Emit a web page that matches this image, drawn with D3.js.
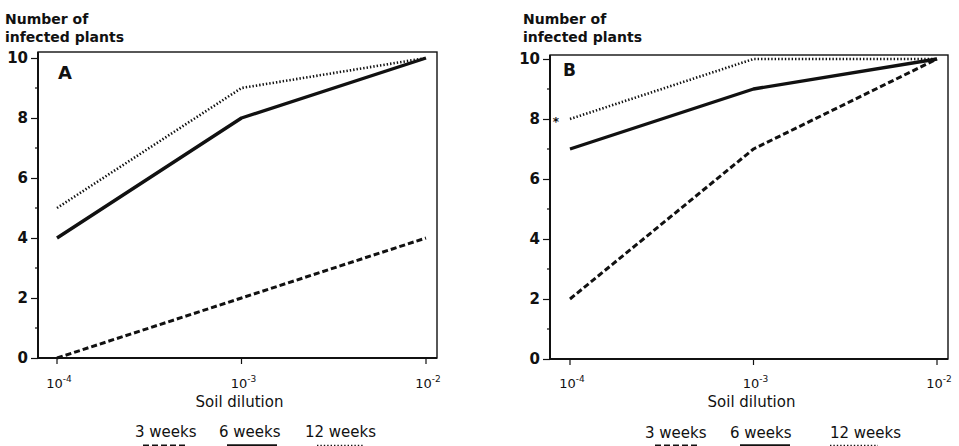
<!DOCTYPE html>
<html>
<head>
<meta charset="utf-8">
<script src="https://cdn.jsdelivr.net/npm/d3@7"></script>
<style>
  body { margin: 0; background: #fff; }
  svg { display: block; }
  text { font-family: "DejaVu Sans", sans-serif; fill: #111; }
</style>
</head>
<body>
<svg id="chart" width="959" height="446"></svg>
<script>
// Soil dilution levels (x) and infection counts per sampling time
const dilutions = [1e-4, 1e-3, 1e-2];
const dilutionExponents = ["-4", "-3", "-2"];
const yTicks = [0, 2, 4, 6, 8, 10];
const yMinorTicks = [1, 3, 5, 7, 9];
const seriesNames = ["3 weeks", "6 weeks", "12 weeks"];

const panelA_3wk = [0, 2, 4];
const panelA_6wk = [4, 8, 10];
const panelA_12wk = [5, 9, 10];

const panelB_3wk = [2, 7, 10];
const panelB_6wk = [7, 9, 10];
const panelB_12wk = [8, 10, 10];

const styles = {
  "3 weeks": { width: 3, dash: "6,3" },
  "6 weeks": { width: 3.4, dash: null },
  "12 weeks": { width: 2.6, dash: "1.4,2" }
};

const panels = [
  { label: "A", left: 38, right: 437, top: 52, x0: 57, x1: 426, zeroY: 358,
    series: [panelA_3wk, panelA_6wk, panelA_12wk],
    titleX: 5, legendX: [135, 219, 305], legendY: 437,
    sampleX: [[143, 188], [227, 277], [317, 363]], letterDx: 20, letterY: 79, letterSize: 18 },
  { label: "B", left: 550, right: 948, top: 55, x0: 570, x1: 937, zeroY: 359,
    series: [panelB_3wk, panelB_6wk, panelB_12wk],
    titleX: 523, legendX: [645, 730, 830], legendY: 438,
    sampleX: [[655, 700], [740, 790], [830, 878]], letterDx: 13, letterY: 76, letterSize: 17, star: true }
];

const svg = d3.select("#chart");

panels.forEach(p => {
  const x = d3.scaleLog().domain([1e-4, 1e-2]).range([p.x0, p.x1]);
  const y = d3.scaleLinear().domain([0, 10]).range([p.zeroY, p.zeroY - 300]);
  const g = svg.append("g");

  // frame
  g.append("rect")
    .attr("x", p.left).attr("y", p.top)
    .attr("width", p.right - p.left).attr("height", y(0) - p.top)
    .attr("fill", "none").attr("stroke", "#111").attr("stroke-width", 1.4);
  g.append("line").attr("x1", p.left).attr("x2", p.left).attr("y1", p.top).attr("y2", y(0))
    .attr("stroke", "#111").attr("stroke-width", 2);
  g.append("line").attr("x1", p.left).attr("x2", p.right).attr("y1", y(0)).attr("y2", y(0))
    .attr("stroke", "#111").attr("stroke-width", 2);

  // y axis: major ticks with labels, minor ticks
  const yAxis = d3.axisLeft(y).tickValues(yTicks).tickSize(7).tickPadding(3);
  const ya = g.append("g").attr("transform", `translate(${p.left},0)`).call(yAxis);
  ya.select(".domain").remove();
  ya.selectAll(".tick line").attr("stroke", "#111").attr("stroke-width", 1.2);
  ya.selectAll(".tick text").style("font-size", "15px").style("font-weight", "bold")
    .attr("fill", "#111").style("font-family", "DejaVu Sans, sans-serif");
  g.selectAll(".minor").data(yMinorTicks).enter().append("line")
    .attr("x1", p.left - 3).attr("x2", p.left)
    .attr("y1", d => y(d)).attr("y2", d => y(d))
    .attr("stroke", "#111").attr("stroke-width", 1.2);

  // x axis ticks and power-of-ten labels
  g.selectAll(".xt").data(dilutions).enter().append("line")
    .attr("x1", d => x(d)).attr("x2", d => x(d))
    .attr("y1", y(0)).attr("y2", y(0) + 6)
    .attr("stroke", "#111").attr("stroke-width", 1.2);
  const xl = g.selectAll(".xl").data(dilutions).enter().append("text")
    .attr("x", d => x(d) + 2).attr("y", 388)
    .attr("text-anchor", "middle")
    .style("font-size", "13px");
  xl.append("tspan").text("10");
  xl.append("tspan").attr("dy", -6).style("font-size", "9px").text((d, i) => dilutionExponents[i]);

  g.append("text").attr("x", (p.x0 + p.x1) / 2 - 2).attr("y", 407)
    .attr("text-anchor", "middle").style("font-size", "15px").text("Soil dilution");

  // y title
  g.append("text").attr("x", p.titleX).attr("y", 24).style("font-size", "14px")
    .style("font-weight", "bold").text("Number of");
  g.append("text").attr("x", p.titleX).attr("y", 42).style("font-size", "14px")
    .style("font-weight", "bold").text("infected plants");

  // panel letter
  g.append("text").attr("x", p.left + p.letterDx).attr("y", p.letterY)
    .style("font-size", p.letterSize + "px").style("font-weight", "bold").text(p.label);

  // series lines
  const line = d3.line().x((d, i) => x(dilutions[i])).y(d => y(d));
  p.series.forEach((vals, si) => {
    const st = styles[seriesNames[si]];
    g.append("path").datum(vals).attr("d", line)
      .attr("fill", "none").attr("stroke", "#111")
      .attr("stroke-width", st.width)
      .attr("stroke-dasharray", st.dash)
      .attr("stroke-linejoin", "round");
  });

  if (p.star) {
    g.append("text").attr("x", p.left + 6).attr("y", y(p.series[2][0]) + 7)
      .attr("text-anchor", "middle").style("font-size", "12px").style("font-weight", "bold").text("*");
  }

  // legend
  seriesNames.forEach((name, si) => {
    g.append("text").attr("x", p.legendX[si]).attr("y", p.legendY)
      .style("font-size", "15px").text(name);
    const st = styles[name];
    g.append("line").attr("x1", p.sampleX[si][0]).attr("x2", p.sampleX[si][1])
      .attr("y1", 446).attr("y2", 446)
      .attr("stroke", "#111").attr("stroke-width", st.width)
      .attr("stroke-dasharray", st.dash);
  });
});
</script>
</body>
</html>
